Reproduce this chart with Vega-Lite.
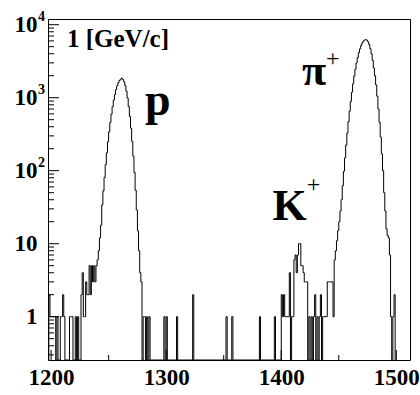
{
  "$schema": "https://vega.github.io/schema/vega-lite/v6.json",
  "width": 362,
  "height": 341,
  "autosize": "none",
  "padding": {"left": 48, "top": 19, "right": 10, "bottom": 35},
  "background": "white",
  "config": {"view": {"stroke": "black", "strokeWidth": 1}, "font": "Liberation Serif"},
  "datasets": {
    "xmajor": [{"v": 1200}, {"v": 1300}, {"v": 1400}, {"v": 1500}],
    "xminor": [{"v": 1250}, {"v": 1350}, {"v": 1450}],
    "ymajor": [{"v": 1}, {"v": 10}, {"v": 100}, {"v": 1000}, {"v": 10000}],
    "yminor": [{"v": 0.3}, {"v": 0.4}, {"v": 0.5}, {"v": 0.6}, {"v": 0.7}, {"v": 0.8}, {"v": 0.9},
               {"v": 2}, {"v": 3}, {"v": 4}, {"v": 5}, {"v": 6}, {"v": 7}, {"v": 8}, {"v": 9},
               {"v": 20}, {"v": 30}, {"v": 40}, {"v": 50}, {"v": 60}, {"v": 70}, {"v": 80}, {"v": 90},
               {"v": 200}, {"v": 300}, {"v": 400}, {"v": 500}, {"v": 600}, {"v": 700}, {"v": 800}, {"v": 900},
               {"v": 2000}, {"v": 3000}, {"v": 4000}, {"v": 5000}, {"v": 6000}, {"v": 7000}, {"v": 8000}, {"v": 9000}],
    "sup": [{"e": "2", "v": 100}, {"e": "3", "v": 1000}, {"e": "4", "v": 10000}]
  },
  "layer": [
    {
      "data": {"values": [
        {"x":1197,"n":0},{"x":1198,"n":2},{"x":1199,"n":1},{"x":1200,"n":1},{"x":1201,"n":1},{"x":1202,"n":1},{"x":1203,"n":1},{"x":1204,"n":0},{"x":1205,"n":1},{"x":1206,"n":0},
        {"x":1208,"n":1},{"x":1209,"n":1},{"x":1210,"n":2},{"x":1211,"n":1},{"x":1212,"n":0},
        {"x":1216,"n":1},{"x":1217,"n":1},{"x":1218,"n":1},{"x":1219,"n":0},{"x":1221,"n":1},{"x":1222,"n":0},{"x":1223,"n":1},{"x":1224,"n":0},
        {"x":1226,"n":2},{"x":1227,"n":4},{"x":1228,"n":1},{"x":1229,"n":1},{"x":1230,"n":3},{"x":1231,"n":2},{"x":1232,"n":2},{"x":1233,"n":5},{"x":1234,"n":2},{"x":1235,"n":5},
        {"x":1236,"n":3},{"x":1237,"n":5},{"x":1238,"n":3},{"x":1239,"n":5},{"x":1240,"n":6},{"x":1241,"n":8},{"x":1242,"n":12},{"x":1243,"n":18},{"x":1244,"n":34},{"x":1245,"n":53},
        {"x":1246,"n":81},{"x":1247,"n":121},{"x":1248,"n":176},{"x":1249,"n":249},{"x":1250,"n":342},{"x":1251,"n":457},{"x":1252,"n":594},{"x":1253,"n":752},{"x":1254,"n":925},
        {"x":1255,"n":1107},{"x":1256,"n":1288},{"x":1257,"n":1459},{"x":1258,"n":1607},{"x":1259,"n":1722},{"x":1260,"n":1795},{"x":1261,"n":1850},{"x":1262,"n":1776},
        {"x":1263,"n":1652},{"x":1264,"n":1462},{"x":1265,"n":1230},{"x":1266,"n":989},{"x":1267,"n":755},{"x":1268,"n":551},{"x":1269,"n":382},{"x":1270,"n":252},
        {"x":1271,"n":158},{"x":1272,"n":95},{"x":1273,"n":54},{"x":1274,"n":29},{"x":1275,"n":15},{"x":1276,"n":8},{"x":1277,"n":4},{"x":1278,"n":3},{"x":1279,"n":0},
        {"x":1280,"n":1},{"x":1281,"n":1},{"x":1282,"n":0},{"x":1283,"n":1},{"x":1284,"n":0},{"x":1285,"n":1},{"x":1286,"n":0},
        {"x":1298,"n":1},{"x":1299,"n":0},{"x":1300,"n":1},{"x":1301,"n":0},{"x":1309,"n":1},{"x":1310,"n":0},{"x":1323,"n":2},{"x":1324,"n":0},
        {"x":1352,"n":1},{"x":1353,"n":0},{"x":1357,"n":1},{"x":1358,"n":0},{"x":1381,"n":1},{"x":1382,"n":0},{"x":1394,"n":1},{"x":1395,"n":0},
        {"x":1400,"n":2},{"x":1401,"n":1},{"x":1402,"n":2},{"x":1403,"n":1},{"x":1404,"n":1},{"x":1405,"n":1},{"x":1406,"n":1},{"x":1407,"n":4},{"x":1408,"n":0},
        {"x":1409,"n":1},{"x":1410,"n":1},{"x":1411,"n":6},{"x":1412,"n":7},{"x":1413,"n":4},{"x":1414,"n":7},{"x":1415,"n":10},{"x":1416,"n":10},{"x":1417,"n":5},
        {"x":1418,"n":5},{"x":1419,"n":4},{"x":1420,"n":3},{"x":1421,"n":3},{"x":1422,"n":3},{"x":1423,"n":0},{"x":1424,"n":1},{"x":1425,"n":0},{"x":1426,"n":1},
        {"x":1427,"n":0},{"x":1428,"n":1},{"x":1429,"n":2},{"x":1430,"n":0},{"x":1431,"n":1},{"x":1432,"n":0},{"x":1433,"n":1},{"x":1434,"n":2},{"x":1435,"n":0},
        {"x":1436,"n":1},{"x":1437,"n":1},{"x":1438,"n":1},{"x":1439,"n":1},{"x":1440,"n":3},{"x":1441,"n":3},{"x":1442,"n":3},{"x":1443,"n":3},{"x":1444,"n":3},
        {"x":1445,"n":1},{"x":1446,"n":6},{"x":1447,"n":8},{"x":1448,"n":11},{"x":1449,"n":15},{"x":1450,"n":20},{"x":1451,"n":28},{"x":1452,"n":40},{"x":1453,"n":62},
        {"x":1454,"n":98},{"x":1455,"n":150},{"x":1456,"n":224},{"x":1457,"n":327},{"x":1458,"n":468},{"x":1459,"n":653},{"x":1460,"n":891},{"x":1461,"n":1189},
        {"x":1462,"n":1549},{"x":1463,"n":1972},{"x":1464,"n":2455},{"x":1465,"n":2985},{"x":1466,"n":3548},{"x":1467,"n":4121},{"x":1468,"n":4677},{"x":1469,"n":5188},
        {"x":1470,"n":5623},{"x":1471,"n":5957},{"x":1472,"n":6166},{"x":1473,"n":6237},{"x":1474,"n":6150},{"x":1475,"n":5850},{"x":1476,"n":5350},{"x":1477,"n":4700},
        {"x":1478,"n":4000},{"x":1479,"n":3250},{"x":1480,"n":2550},{"x":1481,"n":2000},{"x":1482,"n":1500},{"x":1483,"n":1050},{"x":1484,"n":700},{"x":1485,"n":460},
        {"x":1486,"n":290},{"x":1487,"n":170},{"x":1488,"n":100},{"x":1489,"n":50},{"x":1490,"n":28},{"x":1491,"n":16},{"x":1492,"n":13},{"x":1493,"n":12},{"x":1494,"n":7},
        {"x":1495,"n":1},{"x":1496,"n":0},{"x":1497,"n":1},{"x":1498,"n":2},{"x":1499,"n":0}
      ]},
      "mark": {"type": "line", "interpolate": "step-after", "color": "black", "strokeWidth": 1, "clip": true, "invalid": "show"},
      "encoding": {
        "x": {
          "field": "x", "type": "quantitative",
          "scale": {"domain": [1197.3, 1511.9], "nice": false, "zero": false},
          "axis": {
            "orient": "bottom", "values": [1200, 1300, 1400, 1500], "format": "d",
            "domain": false, "grid": false, "title": null, "ticks": false,
            "labelFont": "Liberation Serif", "labelFontWeight": "bold", "labelFontSize": 23, "labelColor": "black",
            "labelPadding": 6, "labelFlush": false, "labelOverlap": false
          }
        },
        "y": {
          "field": "n", "type": "quantitative",
          "scale": {"type": "log", "domain": [0.255, 11970], "nice": false, "clamp": true},
          "axis": {
            "orient": "left", "values": [1, 10, 100, 1000, 10000],
            "labelExpr": "datum.value == 1 ? '1' : '10'",
            "domain": false, "grid": false, "title": null, "ticks": false,
            "labelFont": "Liberation Serif", "labelFontWeight": "bold", "labelFontSize": 23, "labelColor": "black",
            "labelPadding": 11, "labelFlush": false, "labelOverlap": false, "labelBaseline": "middle"
          }
        }
      }
    },
    {
      "data": {"name": "xmajor"},
      "mark": {"type": "tick", "orient": "vertical", "size": 20, "thickness": 1, "color": "black", "opacity": 1, "clip": true},
      "encoding": {"x": {"field": "v", "type": "quantitative"}, "y": {"datum": 0.255, "type": "quantitative"}}
    },
    {
      "data": {"name": "xminor"},
      "mark": {"type": "tick", "orient": "vertical", "size": 10, "thickness": 1, "color": "black", "opacity": 1, "clip": true},
      "encoding": {"x": {"field": "v", "type": "quantitative"}, "y": {"datum": 0.255, "type": "quantitative"}}
    },
    {
      "data": {"name": "ymajor"},
      "mark": {"type": "tick", "orient": "horizontal", "size": 22, "thickness": 1, "color": "black", "opacity": 1, "clip": true},
      "encoding": {"x": {"datum": 1197.3, "type": "quantitative"}, "y": {"field": "v", "type": "quantitative"}}
    },
    {
      "data": {"name": "yminor"},
      "mark": {"type": "tick", "orient": "horizontal", "size": 12, "thickness": 1, "color": "black", "opacity": 1, "clip": true},
      "encoding": {"x": {"datum": 1197.3, "type": "quantitative"}, "y": {"field": "v", "type": "quantitative"}}
    },
    {
      "data": {"name": "sup"},
      "mark": {"type": "text", "font": "Liberation Serif", "fontWeight": "bold", "fontSize": 14, "align": "left", "baseline": "alphabetic", "dy": -4, "color": "black", "clip": false},
      "encoding": {"x": {"datum": 1188.6, "type": "quantitative"}, "y": {"field": "v", "type": "quantitative"}, "text": {"field": "e"}}
    },
    {
      "data": {"values": [{}]},
      "mark": {"type": "text", "font": "Liberation Serif", "fontWeight": "bold", "fontSize": 25, "align": "left", "baseline": "alphabetic", "color": "black"},
      "encoding": {"x": {"datum": 1213.8, "type": "quantitative"}, "y": {"datum": 4950, "type": "quantitative"}, "text": {"value": "1 [GeV/c]"}}
    },
    {
      "data": {"values": [{}]},
      "mark": {"type": "text", "font": "Liberation Serif", "fontWeight": "bold", "fontSize": 46, "align": "left", "baseline": "alphabetic", "color": "black"},
      "encoding": {"x": {"datum": 1281.5, "type": "quantitative"}, "y": {"datum": 580, "type": "quantitative"}, "text": {"value": "p"}}
    },
    {
      "data": {"values": [{}]},
      "mark": {"type": "text", "font": "Liberation Serif", "fontWeight": "bold", "fontSize": 44, "align": "left", "baseline": "alphabetic", "color": "black"},
      "encoding": {"x": {"datum": 1392.5, "type": "quantitative"}, "y": {"datum": 21.1, "type": "quantitative"}, "text": {"value": "K"}}
    },
    {
      "data": {"values": [{}]},
      "mark": {"type": "text", "font": "Liberation Serif", "fontWeight": "normal", "fontSize": 24, "align": "left", "baseline": "alphabetic", "color": "black"},
      "encoding": {"x": {"datum": 1422.1, "type": "quantitative"}, "y": {"datum": 51, "type": "quantitative"}, "text": {"value": "+"}}
    },
    {
      "data": {"values": [{}]},
      "mark": {"type": "text", "font": "Liberation Serif", "fontWeight": "bold", "fontSize": 44, "align": "left", "baseline": "alphabetic", "color": "black"},
      "encoding": {"x": {"datum": 1418, "type": "quantitative"}, "y": {"datum": 1493, "type": "quantitative"}, "text": {"value": "π"}}
    },
    {
      "data": {"values": [{}]},
      "mark": {"type": "text", "font": "Liberation Serif", "fontWeight": "normal", "fontSize": 24, "align": "left", "baseline": "alphabetic", "color": "black"},
      "encoding": {"x": {"datum": 1438.9, "type": "quantitative"}, "y": {"datum": 2718, "type": "quantitative"}, "text": {"value": "+"}}
    }
  ]
}
